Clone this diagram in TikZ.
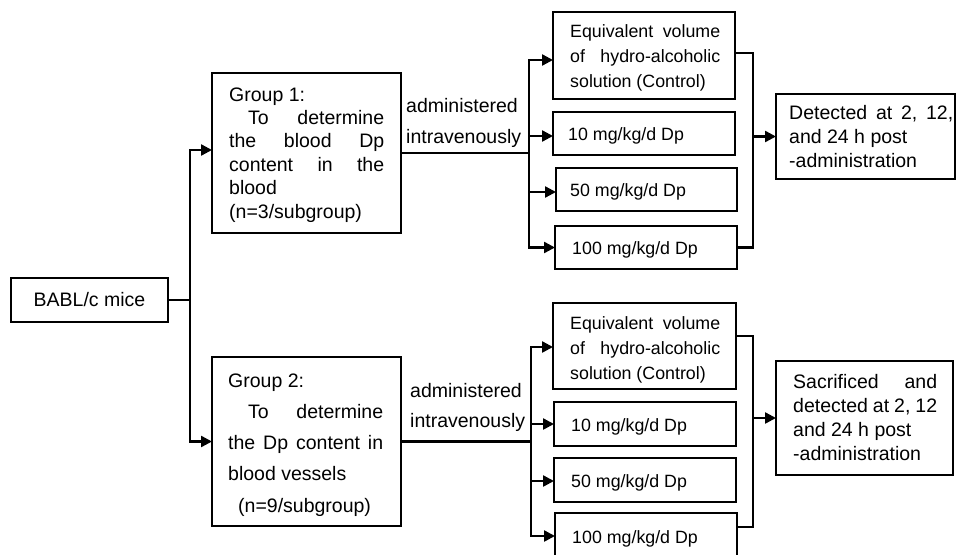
\documentclass[tikz,border=0pt]{standalone}
\usepackage{fontspec}
\setmainfont{Liberation Sans}
\usetikzlibrary{arrows.meta}
\newcommand\stackl[2]{\vtop{\baselineskip=#1\lineskiplimit=-30pt\lineskip=0pt #2}}
\begin{document}
\begin{tikzpicture}[x=1pt,y=-1pt,
  box/.style={draw,line width=2.4pt,inner sep=0pt,outer sep=0pt},
  arr/.style={line width=2.4pt,-{Triangle[length=11pt,width=11pt]}},
  ln/.style={line width=2.4pt},
  big/.style={anchor=base west,inner sep=0pt,font=\fontsize{19.5}{23.4}\selectfont},
  sml/.style={anchor=base west,inner sep=0pt,font=\fontsize{17.8}{24}\selectfont}]
\useasboundingbox (0,0) rectangle (957,554);
\fill[white] (0,0) rectangle (957,554);

% boxes
\node[box,minimum width=157pt,minimum height=44pt,font=\fontsize{19.5}{23.4}\selectfont] (mice) at (89.5,300) {BABL/c mice};
\node[box,minimum width=189pt,minimum height=160pt] (g1) at (306.5,153) {};
\node[box,minimum width=189pt,minimum height=169pt] (g2) at (306.5,441.5) {};
\node[box,minimum width=182pt,minimum height=87pt] (c1) at (644,55.5) {};
\node[box,minimum width=182pt,minimum height=43pt] (a1) at (644,133.5) {};
\node[box,minimum width=181pt,minimum height=43pt] (b1) at (646.5,189.5) {};
\node[box,minimum width=182pt,minimum height=43pt] (d1) at (646,247.5) {};
\node[box,minimum width=179pt,minimum height=85pt] (det) at (865.5,136.5) {};
\node[box,minimum width=183pt,minimum height=86pt] (c2) at (644.5,346) {};
\node[box,minimum width=182pt,minimum height=44pt] (a2) at (645,424) {};
\node[box,minimum width=182pt,minimum height=44pt] (b2) at (645,480) {};
\node[box,minimum width=182pt,minimum height=44pt] (d2) at (646,535) {};
\node[box,minimum width=177pt,minimum height=114pt] (sac) at (864.5,418) {};

% texts
\node[big] (g1t) at (229,101) {\stackl{23.4pt}{\hbox{Group 1:}\hbox to 155pt{\hspace*{19pt}To\hfill determine}\hbox to 155pt{the\hfill blood\hfill Dp}\hbox to 155pt{content\hfill in\hfill the}\hbox{blood}\hbox{(n=3/subgroup)}}};
\node[big] (g2t) at (228,387) {\stackl{31.25pt}{\hbox{Group 2:}\hbox to 155pt{\hspace*{20pt}To\hfill determine}\hbox to 155pt{the\hfill Dp\hfill content\hfill in}\hbox{blood vessels}\hbox{\hspace*{10pt}(n=9/subgroup)}}};
\node[big] (ad1) at (406,112) {\stackl{31pt}{\hbox{administered}\hbox{intravenously}}};
\node[big] (ad2) at (410,397) {\stackl{30pt}{\hbox{administered}\hbox{intravenously}}};
\node[sml] (c1t) at (570,37) {\stackl{25pt}{\hbox to 150pt{Equivalent\hfill volume}\hbox to 150pt{of\hfill hydro-alcoholic}\hbox{solution (Control)}}};
\node[sml] (c2t) at (570,329) {\stackl{25pt}{\hbox to 150pt{Equivalent\hfill volume}\hbox to 150pt{of\hfill hydro-alcoholic}\hbox{solution (Control)}}};
\node[sml] (a1t) at (568,140.5) {10 mg/kg/d Dp};
\node[sml] (b1t) at (570,196.5) {50 mg/kg/d Dp};
\node[sml] (d1t) at (572,254.5) {100 mg/kg/d Dp};
\node[sml] (a2t) at (571,431.5) {10 mg/kg/d Dp};
\node[sml] (b2t) at (571,487.5) {50 mg/kg/d Dp};
\node[sml] (d2t) at (572,543) {100 mg/kg/d Dp};
\node[big] (dett) at (789,119) {\stackl{24pt}{\hbox to 164pt{Detected\hfill at\hfill 2,\hfill 12,}\hbox{and 24 h post}\hbox{-administration}}};
\node[big] (sact) at (793,388) {\stackl{24pt}{\hbox to 144pt{Sacrificed\hfill and}\hbox to 144pt{detected\hfill at\hfill 2,\hfill 12}\hbox{and 24 h post}\hbox{-administration}}};

% connectors
\coordinate (t) at (190,300);
\draw[ln] (mice.east) -- (t);
\draw[arr] (t) |- ([yshift=3pt]g1.west);
\draw[arr] (t) |- (g2.west);

\coordinate (s1) at (529,153);
\draw[ln] (g1.east) -- (s1);
\draw[arr] (s1) |- ([yshift=-4.5pt]c1.west);
\draw[arr] (s1) |- ([yshift=-2.5pt]a1.west);
\draw[arr] (s1) |- ([yshift=-2.5pt]b1.west);
\draw[arr] (s1) |- (d1.west);
\coordinate (r1) at (753,136.5);
\draw[ln] ([yshift=2.5pt]c1.east) -| (r1) |- (d1.east);
\draw[arr] (r1) -- (det.west);

\coordinate (s2) at (531,441.5);
\draw[ln] (g2.east) -- (s2);
\draw[arr] (s2) |- ([yshift=-1pt]c2.west);
\draw[arr] (s2) |- (a2.west);
\draw[arr] (s2) |- ([yshift=-1pt]b2.west);
\draw[arr] (s2) |- ([yshift=-1pt]d2.west);
\coordinate (r2) at (753,418);
\draw[ln] ([yshift=10pt]c2.east) -| (r2) |- ([yshift=8pt]d2.east);
\draw[arr] (r2) -- (sac.west);
\end{tikzpicture}
\end{document}
